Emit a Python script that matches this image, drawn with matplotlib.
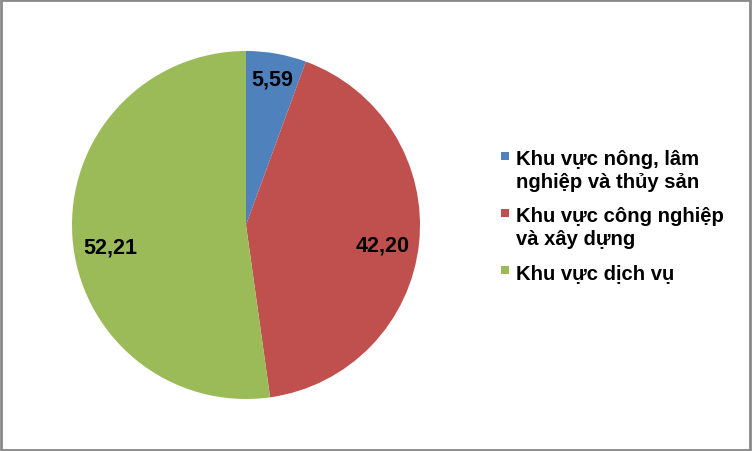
import numpy as np
import matplotlib
matplotlib.use("Agg")
import matplotlib.pyplot as plt
from matplotlib.patches import Rectangle

# Cơ cấu kinh tế theo khu vực (%)
categories = [
    "Khu vực nông, lâm\nnghiệp và thủy sản",
    "Khu vực công nghiệp\nvà xây dựng",
    "Khu vực dịch vụ",
]
values = [5.59, 42.20, 52.21]
colors = ["#4F81BD", "#C0504D", "#9BBB59"]

plt.rcParams["font.family"] = ["Liberation Sans", "DejaVu Sans"]

fig = plt.figure(figsize=(7.52, 4.52), dpi=100)

# pie axes: centred at (246, 226) px with radius ~174 px
W, H = 752, 452
cx, cy, r = 246, 226, 174
ax = fig.add_axes([(cx - r) / W, (H - cy - r) / H, 2 * r / W, 2 * r / H])

wedges, _ = ax.pie(values, colors=colors, startangle=90, counterclock=False,
                   radius=1.0, wedgeprops=dict(linewidth=0))
ax.set_xlim(-1, 1)
ax.set_ylim(-1, 1)
ax.set_aspect("equal")

# value labels inside the slices (radial distance and small vertical nudge)
label_dist = [0.85, 0.79, 0.78]
label_dy = [0.0, -0.03, -0.07]
for w, v, d, dy in zip(wedges, values, label_dist, label_dy):
    ang = np.deg2rad((w.theta1 + w.theta2) / 2)
    ax.text(d * np.cos(ang), d * np.sin(ang) + dy,
            f"{v:.2f}".replace(".", ","),
            ha="center", va="center", fontsize=15.5, fontweight="bold",
            color="black")

# legend: square swatch aligned with the first line of each entry
text_x, swatch_x, swatch_size = 516, 501, 8
line_step, entry_gap = 23, 34
baseline = 165
for w, label in zip(wedges, categories):
    fig.patches.append(Rectangle((swatch_x / W, 1 - (baseline - 4) / H),
                                 swatch_size / W, swatch_size / H,
                                 transform=fig.transFigure,
                                 facecolor=w.get_facecolor(), edgecolor="none"))
    lines = label.split("\n")
    for k, line in enumerate(lines):
        fig.text(text_x / W, 1 - (baseline + k * line_step) / H, line,
                 ha="left", va="baseline", fontsize=14.6, fontweight="bold",
                 color="black")
    baseline += (len(lines) - 1) * line_step + entry_gap

# grey outer frame
fig.patches.append(Rectangle((0.0015, 0.002), 0.996, 0.996,
                             transform=fig.transFigure, fill=False,
                             edgecolor="#898989", linewidth=2.0))

fig.savefig("out.png", dpi=100)
